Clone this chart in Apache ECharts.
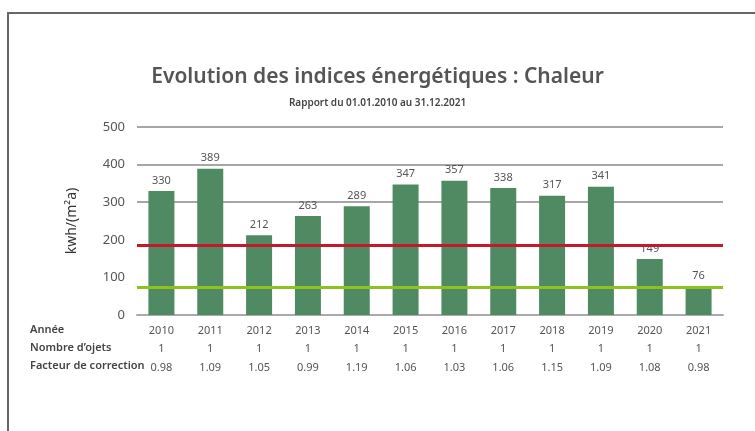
<!DOCTYPE html>
<html>
<head>
<meta charset="utf-8">
<script src="https://cdn.jsdelivr.net/npm/echarts@6/dist/echarts.min.js"></script>
<style>
  html, body { margin: 0; padding: 0; background: #fff; }
  #chart { width: 755px; height: 431px; }
</style>
</head>
<body>
<div id="chart"></div>
<script>
const years = ["2010", "2011", "2012", "2013", "2014", "2015", "2016", "2017", "2018", "2019", "2020", "2021"];
const values = [330, 389, 212, 263, 289, 347, 357, 338, 317, 341, 149, 76];
const objectCounts = [1, 1, 1, 1, 1, 1, 1, 1, 1, 1, 1, 1];
const correction = ["0.98", "1.09", "1.05", "0.99", "1.19", "1.06", "1.03", "1.06", "1.15", "1.09", "1.08", "0.98"];
const limitHigh = 185;
const limitLow = 75;
const rowLabels = ["Année", "Nombre d’ojets", "Facteur de correction"];

const font = "'Noto Sans', 'Open Sans', sans-serif";
const chart = echarts.init(document.getElementById("chart"));

const option = {
  animation: false,
  textStyle: { fontFamily: font },
  title: {
    text: "Evolution des indices énergétiques : Chaleur",
    subtext: "Rapport du 01.01.2010 au 31.12.2021",
    left: "center",
    top: 62,
    itemGap: 10,
    textStyle: { fontSize: 21, fontWeight: 600, color: "#555", fontFamily: font },
    subtextStyle: { fontSize: 10, fontWeight: 600, color: "#444", fontFamily: font },
  },
  grid: { left: 137, right: 32, top: 127, bottom: 116 },
  graphic: [
    {
      type: "polyline",
      shape: { points: [[8, 440], [8, 13], [760, 13]] },
      style: { stroke: "#666", lineWidth: 2, fill: null },
    },
    ...rowLabels.map((t, i) => ({
      type: "text",
      left: 30,
      top: 324 + i * 18,
      style: { text: t, fontSize: 11, fontWeight: 600, fill: "#444", fontFamily: font },
    })),
  ],
  xAxis: {
    type: "category",
    data: years,
    axisTick: { show: false },
    axisLine: { lineStyle: { color: "#aaa", width: 2 } },
    axisLabel: {
      interval: 0,
      margin: 7,
      formatter: (v, i) => `{y|${v}}\n{n|${objectCounts[i]}}\n{f|${correction[i]}}`,
      rich: {
        y: { fontSize: 11, color: "#555", lineHeight: 18, fontFamily: font },
        n: { fontSize: 11, color: "#555", lineHeight: 18, fontFamily: font },
        f: { fontSize: 11, color: "#555", lineHeight: 20, fontFamily: font },
      },
    },
  },
  yAxis: {
    type: "value",
    min: 0,
    max: 500,
    interval: 100,
    name: "kwh/(m²a)",
    nameLocation: "middle",
    nameGap: 58,
    nameTextStyle: { fontSize: 14, color: "#333", fontFamily: font },
    axisLabel: { fontSize: 13, color: "#555", margin: 12 },
    splitLine: {
      lineStyle: { color: ["transparent", "transparent", "transparent", "#888", "#888", "#888"], width: 1.5 },
    },
  },
  series: [
    {
      type: "bar",
      data: values,
      barWidth: 26,
      itemStyle: { color: "#4f8a62" },
      label: { show: true, position: "top", distance: 5, fontSize: 11, color: "#555" },
      markLine: {
        silent: true,
        symbol: "none",
        label: { show: false },
        data: [
          { yAxis: limitHigh, lineStyle: { color: "#c4182c", width: 3, type: "solid" } },
          { yAxis: limitLow, lineStyle: { color: "#8dc21f", width: 3, type: "solid" } },
        ],
      },
    },
  ],
};

chart.setOption(option);
</script>
</body>
</html>
